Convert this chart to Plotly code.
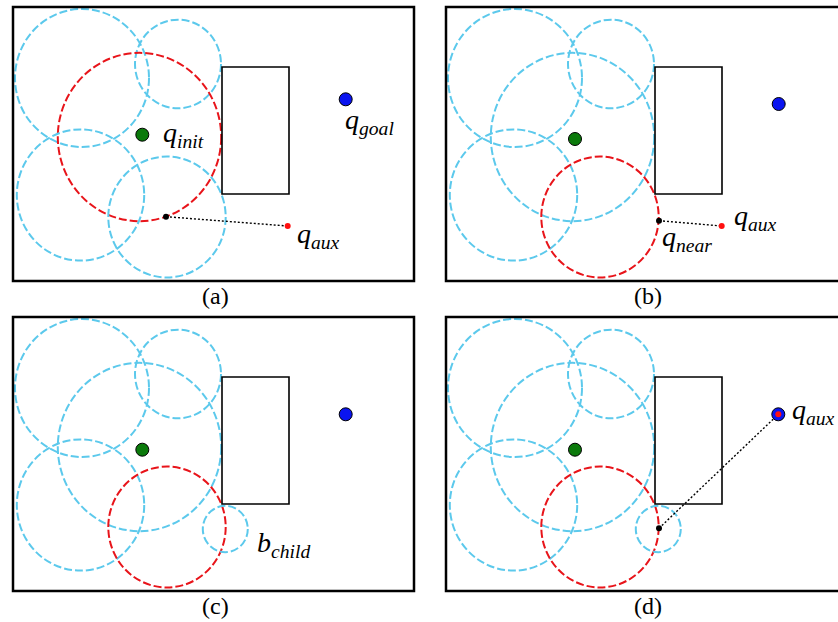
import plotly.graph_objects as go

# ---------------- data (local panel units: px from frame top-left, y down) ----
panel_names = ["(a)", "(b)", "(c)", "(d)"]

# obstacle rectangle
obst_x = [209, 276]
obst_y = [60, 187]

# frame size
frame_w, frame_h = 401, 274

# ball centres / radii (shared by all panels)
ball_cx = [69, 165, 126.5, 67.5, 154, 212.3]
ball_cy = [71, 57, 130, 188, 210, 212]
ball_r = [67, 43, 81.7, 63.7, 58.7, 22.5]
# per panel style of each ball: "c" cyan, "r" red, "" absent
ball_style = [
    ["c", "c", "r", "c", "c", ""],
    ["c", "c", "c", "c", "r", ""],
    ["c", "c", "c", "c", "r", "c"],
    ["c", "c", "c", "c", "r", "c"],
]

init_x = [129.3, 129.0, 129.3, 129.0]
init_y = [127.7, 132.0, 132.7, 132.7]
goal_x = [332.7, 332.7, 332.7, 332.3]
goal_y = [92.3, 97.0, 97.3, 97.3]
near_x = [153.0, 213.0, None, 213.0]
near_y = [209.7, 213.7, None, 211.3]
aux_x = [274.7, 275.7, None, 332.3]
aux_y = [219.0, 219.0, None, 97.3]

labels = [
    [("q", "init", 148, 127), ("q", "goal", 330, 114), ("q", "aux", 282, 228)],
    [("q", "near", 214, 231), ("q", "aux", 286, 210)],
    [("b", "child", 242, 227)],
    [("q", "aux", 344, 95)],
]

# ---------------- styling ----------------
CYAN = "#5cc9ec"
RED = "#e8141a"
SERIF = "Liberation Serif, Times New Roman, DejaVu Serif, serif"
ASPECT = 1.03
x_domains = [[10 / 838, 417 / 838], [443 / 838, 1.0]]
y_domains = [[1 - 310 / 622, 1 - 4 / 622], [1 - 620 / 622, 1 - 314 / 622]]
x_ranges = [[-3, 404], [-3, 392]]

fig = go.Figure()
layout = dict(width=838, height=622, margin=dict(l=0, r=0, t=0, b=0),
              paper_bgcolor="white", plot_bgcolor="white", showlegend=False)
shapes = []
annotations = []

for i in range(4):
    col, row = i % 2, i // 2
    sx = "" if i == 0 else str(i + 1)
    xa, ya = "x" + sx, "y" + sx
    layout["xaxis" + sx] = dict(domain=x_domains[col], range=x_ranges[col], visible=False,
                                 anchor=ya, fixedrange=True)
    layout["yaxis" + sx] = dict(domain=y_domains[row], range=[303, -3], visible=False,
                                 anchor=xa, fixedrange=True)
    # balls
    for j, st in enumerate(ball_style[i]):
        if not st:
            continue
        r = ball_r[j]
        shapes.append(dict(type="circle", xref=xa, yref=ya, layer="below",
                           x0=ball_cx[j] - r, x1=ball_cx[j] + r,
                           y0=ball_cy[j] - r * ASPECT, y1=ball_cy[j] + r * ASPECT,
                           line=dict(color=CYAN if st == "c" else RED, width=2, dash="8px,3px")))
    # obstacle
    shapes.append(dict(type="rect", xref=xa, yref=ya, layer="below",
                       x0=obst_x[0], x1=obst_x[1], y0=obst_y[0], y1=obst_y[1],
                       line=dict(color="black", width=1.6)))
    # frame
    shapes.append(dict(type="rect", xref=xa, yref=ya, layer="above",
                       x0=0, x1=frame_w, y0=0, y1=frame_h,
                       line=dict(color="black", width=2.5)))
    # dotted connection
    if near_x[i] is not None:
        fig.add_trace(go.Scatter(x=[near_x[i], aux_x[i]], y=[near_y[i], aux_y[i]], mode="lines",
                                 line=dict(color="black", width=1.4, dash="2px,2px"),
                                 xaxis=xa, yaxis=ya, hoverinfo="skip"))
    # init / goal
    fig.add_trace(go.Scatter(x=[init_x[i]], y=[init_y[i]], mode="markers",
                             marker=dict(size=13, color="#0b7a0b", line=dict(color="black", width=1)),
                             xaxis=xa, yaxis=ya, hoverinfo="skip"))
    fig.add_trace(go.Scatter(x=[goal_x[i]], y=[goal_y[i]], mode="markers",
                             marker=dict(size=13, color="#0a14f0", line=dict(color="black", width=1)),
                             xaxis=xa, yaxis=ya, hoverinfo="skip"))
    if near_x[i] is not None:
        fig.add_trace(go.Scatter(x=[aux_x[i]], y=[aux_y[i]], mode="markers",
                                 marker=dict(size=6, color="#ff1010"),
                                 xaxis=xa, yaxis=ya, hoverinfo="skip"))
        fig.add_trace(go.Scatter(x=[near_x[i]], y=[near_y[i]], mode="markers",
                                 marker=dict(size=6, color="black"),
                                 xaxis=xa, yaxis=ya, hoverinfo="skip"))
    # labels
    for (base, sub, lx, ly) in labels[i]:
        annotations.append(dict(xref=xa, yref=ya, x=lx, y=ly, xanchor="left", yanchor="middle",
                                text="<i>%s<sub>%s</sub></i>" % (base, sub), showarrow=False,
                                font=dict(family=SERIF, size=28, color="black")))
    # caption
    annotations.append(dict(xref=xa, yref=ya, x=202, y=289, xanchor="center", yanchor="middle",
                            text=panel_names[i], showarrow=False,
                            font=dict(family=SERIF, size=24, color="black")))

layout["shapes"] = shapes
layout["annotations"] = annotations
fig.update_layout(**layout)
fig.write_html("out.html", config={"displayModeBar": False, "staticPlot": True},
               post_script="document.body.style.margin='0';document.body.style.padding='0';")
